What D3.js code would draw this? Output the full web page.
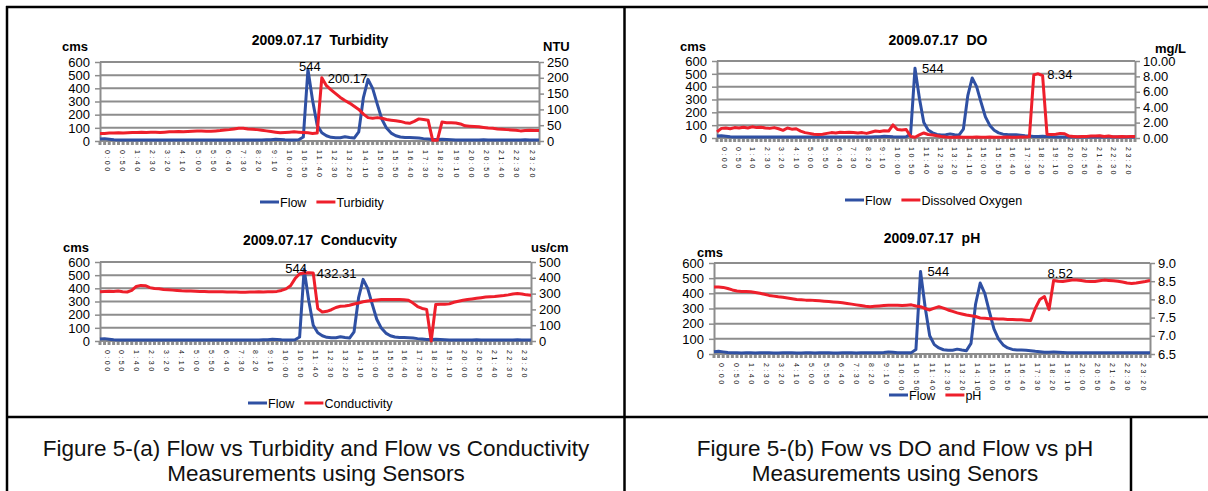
<!DOCTYPE html>
<html>
<head>
<script src="https://d3js.org/d3.v7.min.js"></script>
<style type="text/css">
  body { margin:0; background:#fff; }
  svg { font-family: "Liberation Sans", Arial, sans-serif; }
  .ttl { white-space: pre; }
</style>
</head>
<body>
<svg id="fig" width="1208" height="491"></svg>

<script type="text/javascript">

// flow (cms), same day for all four panels, 15 minute steps
var flow = [
  15, 18, 14, 10, 8, 8, 7, 8, 8, 7,
  8, 8, 8, 7, 7, 8, 8, 8, 7, 7,
  8, 8, 7, 8, 8, 8, 7, 7, 8, 8,
  8, 7, 8, 8, 8, 8, 9, 10, 14, 12,
  9, 8, 8, 9, 30, 544, 310, 120, 62, 40,
  28, 24, 25, 32, 26, 22, 70, 330, 468, 400,
  280, 165, 98, 60, 40, 30, 27, 26, 25, 22,
  18, 15, 12, 12, 14, 12, 10, 8, 8, 8,
  8, 8, 8, 9, 8, 8, 8, 8, 8, 8,
  8, 8, 9, 8, 8, 8];

var turbidity = [
  24, 24, 25, 25, 26, 25, 26, 27, 27, 28,
  27, 28, 28, 27, 28, 29, 29, 30, 29, 30,
  31, 32, 32, 31, 31, 32, 33, 35, 36, 38,
  40, 40, 38, 37, 36, 34, 32, 30, 28, 26,
  27, 28, 29, 28, 27, 26, 24, 25, 200.17, 175,
  162, 150, 138, 128, 120, 110, 100, 85, 74, 72,
  74, 72, 68, 66, 64, 62, 58, 56, 62, 70,
  68, 66, 2, 2, 60, 58, 58, 57, 54, 48,
  47, 46, 45, 43, 41, 40, 38, 37, 36, 35,
  34, 32, 33, 34, 33, 33];

var conductivity = [
  312, 314, 315, 314, 316, 312, 310, 320, 345, 352,
  350, 338, 332, 330, 326, 324, 322, 320, 318, 317,
  316, 315, 314, 313, 312, 312, 311, 311, 310, 310,
  310, 309, 309, 310, 310, 311, 310, 312, 312, 314,
  320, 330, 350, 395, 426, 430, 432.31, 430, 205, 184,
  188, 198, 212, 220, 222, 226, 234, 241, 248, 253,
  256, 259, 262, 262, 262, 263, 262, 261, 258, 240,
  218, 206, 200, 0, 231, 232, 232, 235, 245, 252,
  258, 262, 266, 270, 274, 278, 280, 282, 285, 288,
  292, 298, 300, 298, 292, 290];

var dissolvedOxygen = [
  0.8, 1.25, 1.3, 1.2, 1.35, 1.3, 1.4, 1.3, 1.45, 1.35,
  1.4, 1.3, 1.25, 1.35, 1.2, 1.0, 1.3, 1.15, 1.2, 0.9,
  0.7, 0.6, 0.5, 0.45, 0.5, 0.6, 0.7, 0.65, 0.75, 0.7,
  0.75, 0.7, 0.65, 0.7, 0.6, 0.75, 0.9, 0.85, 0.95, 0.9,
  1.7, 1.1, 1.05, 1.1, 0.2, 0.1, 0.4, 0.65, 0.45, 0.4,
  0.3, 0.2, 0.12, 0.1, 0.1, 0.12, 0.1, 0.1, 0.1, 0.12,
  0.1, 0.1, 0.12, 0.1, 0.1, 0.1, 0.12, 0.1, 0.1, 0.12,
  0.12, 0.15, 8.2, 8.34, 8.1, 0.5, 0.45, 0.5, 0.6, 0.55,
  0.25, 0.2, 0.15, 0.2, 0.2, 0.25, 0.25, 0.3, 0.2, 0.25,
  0.15, 0.15, 0.2, 0.15, 0.2, 0.2];

var ph = [
  8.34, 8.34, 8.33, 8.30, 8.26, 8.23, 8.22, 8.22, 8.21, 8.19,
  8.17, 8.14, 8.11, 8.09, 8.07, 8.06, 8.04, 8.02, 8.00, 7.99,
  7.98, 7.98, 7.97, 7.96, 7.95, 7.94, 7.93, 7.92, 7.91, 7.89,
  7.87, 7.85, 7.83, 7.81, 7.80, 7.81, 7.82, 7.83, 7.84, 7.84,
  7.84, 7.83, 7.84, 7.85, 7.82, 7.80, 7.75, 7.71, 7.76, 7.80,
  7.76, 7.71, 7.67, 7.63, 7.60, 7.57, 7.55, 7.53, 7.49, 7.48,
  7.47, 7.47, 7.46, 7.46, 7.45, 7.45, 7.44, 7.44, 7.43, 7.42,
  7.75, 8.00, 8.08, 7.72, 8.52, 8.50, 8.49, 8.51, 8.53, 8.53,
  8.52, 8.50, 8.49, 8.49, 8.51, 8.53, 8.52, 8.51, 8.50, 8.48,
  8.45, 8.44, 8.45, 8.47, 8.49, 8.52];

// category labels of the time axis
var timeLabels = ["0:00", "0:50", "1:40", "2:30", "3:20", "4:10", "5:00", "5:50",
  "6:40", "7:30", "8:20", "9:10", "10:00", "10:50", "11:40", "12:30", "13:20",
  "14:10", "15:00", "15:50", "16:40", "17:30", "18:20", "19:10", "20:00",
  "20:50", "21:40", "22:30", "23:20"];

var cmsTicks = [0, 100, 200, 300, 400, 500, 600];
var ntuTicks = [0, 50, 100, 150, 200, 250];
var condTicks = [0, 100, 200, 300, 400, 500];
var doTicks = [0, 2, 4, 6, 8, 10];
var phTicks = [6.5, 7.0, 7.5, 8.0, 8.5, 9.0];

var flowPeak = 45;   // index of the labelled flow point

var captionA = ["Figure 5-(a) Flow vs Turbidity and Flow vs Conductivity", "Measurements using Sensors"];
var captionB = ["Figure 5-(b) Fow vs DO and Flow vs pH", "Measurements using Senors"];

var BLUE = "#2f50a3", RED = "#ee1f2b", GRID = "#8d8d8d";

var svg = d3.select("#fig");
svg.append("rect").attr("width", 1208).attr("height", 491).attr("fill", "#fff");

var charts = [
  { x0: 100, x1: 539, y0: 62, y1: 141, series: turbidity, name: "Turbidity",
    title: "2009.07.17  Turbidity", tx: 320, ty: 45, cmsX: 62, cmsY: 51,
    unit: "NTU", ux: 543, uy: 51, rDomain: [0, 250], rTicks: ntuTicks, rFmt: d3.format("d"),
    lx: 260, ly: 202, redIdx: 48,
    fLab: [2, 2, "middle"], rLab: [6, 5, "start"] },
  { x0: 100, x1: 531, y0: 262, y1: 341, series: conductivity, name: "Conductivity",
    title: "2009.07.17  Conducvity", tx: 320, ty: 245, cmsX: 63, cmsY: 252,
    unit: "us/cm", ux: 531, uy: 252, rDomain: [0, 500], rTicks: condTicks, rFmt: d3.format("d"),
    lx: 248, ly: 403, redIdx: 46,
    fLab: [-8, 4, "middle"], rLab: [8, 5, "start"] },
  { x0: 717, x1: 1135, y0: 61, y1: 138, series: dissolvedOxygen, name: "Dissolved Oxygen",
    title: "2009.07.17  DO", tx: 938, ty: 45, cmsX: 680, cmsY: 51,
    unit: "mg/L", ux: 1155, uy: 53, rDomain: [0, 10], rTicks: doTicks, rFmt: d3.format(".2f"),
    lx: 845, ly: 200, redIdx: 73,
    fLab: [7, 5, "start"], rLab: [9, 5, "start"] },
  { x0: 714, x1: 1150, y0: 263, y1: 354, series: ph, name: "pH",
    title: "2009.07.17  pH", tx: 932, ty: 243, cmsX: 697, cmsY: 257,
    unit: "", ux: 0, uy: 0, rDomain: [6.5, 9], rTicks: phTicks, rFmt: d3.format(".1f"),
    lx: 889, ly: 395, redIdx: 74,
    fLab: [7, 5, "start"], rLab: [-6, -2, "start"] }
];

function styleAxis(a) {
  a.select(".domain").attr("stroke", GRID).attr("stroke-width", 2);
  a.selectAll(".tick line").attr("stroke", GRID).attr("stroke-width", 1.5);
  a.selectAll(".tick text").attr("fill", "#000").attr("font-size", 13)
    .attr("font-family", "Liberation Sans, Arial, sans-serif");
}

function drawChart(c) {
  var g = svg.append("g");
  var idx = d3.range(flow.length);
  var x = d3.scalePoint().domain(idx).range([c.x0, c.x1]);
  var yL = d3.scaleLinear().domain([0, 600]).range([c.y1, c.y0]);
  var yR = d3.scaleLinear().domain(c.rDomain).range([c.y1, c.y0]);

  // horizontal gridlines
  g.append("g").selectAll("line").data(cmsTicks).enter().append("line")
    .attr("x1", c.x0).attr("x2", c.x1)
    .attr("y1", function(d) { return yL(d); }).attr("y2", function(d) { return yL(d); })
    .attr("stroke", GRID).attr("stroke-width", 2);

  var la = g.append("g").attr("transform", "translate(" + c.x0 + ",0)")
    .call(d3.axisLeft(yL).tickValues(cmsTicks).tickSize(5).tickSizeOuter(0).tickPadding(5));
  styleAxis(la);

  var ra = g.append("g").attr("transform", "translate(" + c.x1 + ",0)")
    .call(d3.axisRight(yR).tickValues(c.rTicks).tickFormat(c.rFmt).tickSize(5).tickSizeOuter(0).tickPadding(3));
  styleAxis(ra);

  // category axis: dense ticks + rotated time labels
  var xa = g.append("g");
  xa.selectAll("line").data(idx).enter().append("line")
    .attr("x1", function(d) { return x(d); }).attr("x2", function(d) { return x(d); })
    .attr("y1", c.y1).attr("y2", c.y1 + 4)
    .attr("stroke", GRID).attr("stroke-width", 3);
  xa.append("line").attr("x1", c.x0).attr("x2", c.x1).attr("y1", c.y1).attr("y2", c.y1)
    .attr("stroke", GRID).attr("stroke-width", 2);

  var xl = d3.scalePoint().domain(timeLabels).range([c.x0 + 7, c.x1 - 7]);
  xa.selectAll("text").data(timeLabels).enter().append("text")
    .attr("transform", function(d) { return "translate(" + xl(d) + "," + (c.y1 + 9) + ") rotate(90)"; })
    .attr("dy", "0.35em")
    .attr("font-size", 7).attr("letter-spacing", 2.5).attr("fill", "#111")
    .text(function(d) { return d; });

  var line = function(ys, arr) {
    return d3.line().x(function(d, i) { return x(i); }).y(function(d) { return ys(d); })(arr);
  };
  g.append("path").attr("d", line(yL, flow)).attr("fill", "none")
    .attr("stroke", BLUE).attr("stroke-width", 3).attr("stroke-linejoin", "round");
  g.append("path").attr("d", line(yR, c.series)).attr("fill", "none")
    .attr("stroke", RED).attr("stroke-width", 3).attr("stroke-linejoin", "round");

  // data labels
  g.append("text").attr("x", x(flowPeak) + c.fLab[0]).attr("y", yL(flow[flowPeak]) + c.fLab[1])
    .attr("text-anchor", c.fLab[2]).attr("font-size", 13).text(flow[flowPeak]);
  g.append("text").attr("x", x(c.redIdx) + c.rLab[0]).attr("y", yR(c.series[c.redIdx]) + c.rLab[1])
    .attr("text-anchor", c.rLab[2]).attr("font-size", 13).text(c.series[c.redIdx]);

  // title and units
  g.append("text").attr("class", "ttl").attr("x", c.tx).attr("y", c.ty).attr("text-anchor", "middle")
    .attr("font-size", 14).attr("font-weight", "bold").text(c.title);
  g.append("text").attr("x", c.cmsX).attr("y", c.cmsY)
    .attr("font-size", 13).attr("font-weight", "bold").text("cms");
  if (c.unit) {
    g.append("text").attr("x", c.ux).attr("y", c.uy)
      .attr("font-size", 13).attr("font-weight", "bold").text(c.unit);
  }

  // legend
  var lg = g.append("g").attr("transform", "translate(" + c.lx + "," + c.ly + ")");
  var cx = 0;
  [["Flow", BLUE], [c.name, RED]].forEach(function(it) {
    lg.append("line").attr("x1", cx).attr("x2", cx + 19).attr("y1", 0).attr("y2", 0)
      .attr("stroke", it[1]).attr("stroke-width", 3);
    var t = lg.append("text").attr("x", cx + 20).attr("y", 4.5).attr("font-size", 12.5).text(it[0]);
    cx += 20 + t.node().getComputedTextLength() + 10;
  });
}

charts.forEach(drawChart);

// table frame
var frame = [[6, 7, 1208, 7], [7, 6, 7, 491], [624.5, 6, 624.5, 491], [6, 417, 1208, 417], [1131, 417, 1131, 491]];
svg.append("g").selectAll("line").data(frame).enter().append("line")
  .attr("x1", function(d) { return d[0]; }).attr("y1", function(d) { return d[1]; })
  .attr("x2", function(d) { return d[2]; }).attr("y2", function(d) { return d[3]; })
  .attr("stroke", "#000").attr("stroke-width", 2.5);

// captions
function caption(lines, cx) {
  svg.append("g").selectAll("text").data(lines).enter().append("text")
    .attr("x", cx).attr("y", function(d, i) { return 456 + i * 25; })
    .attr("text-anchor", "middle").attr("font-size", 22.5).attr("fill", "#111")
    .text(function(d) { return d; });
}
caption(captionA, 316);
caption(captionB, 895);

</script>
</body>
</html>
